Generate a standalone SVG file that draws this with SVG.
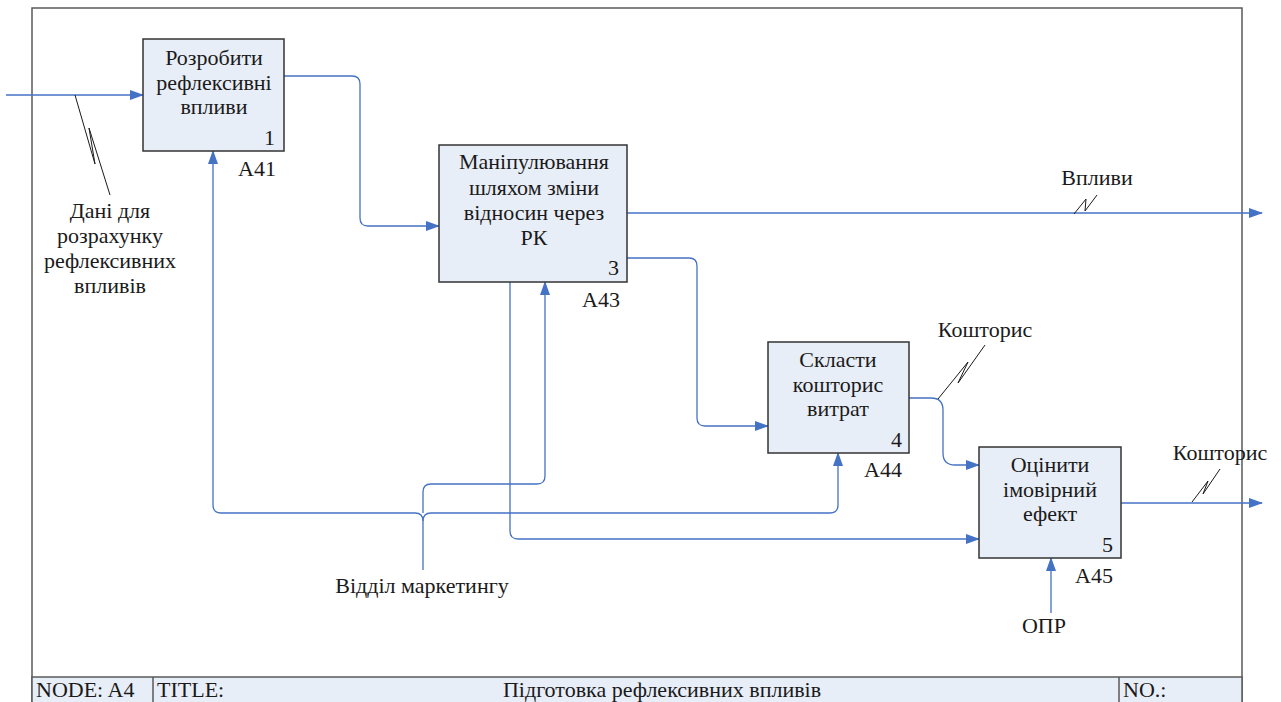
<svg xmlns="http://www.w3.org/2000/svg" width="1281" height="702" viewBox="0 0 1281 702">
  <style>
    text { font-family: "Liberation Serif", Tinos, "Noto Serif", "DejaVu Serif", serif; font-size: 22px; fill: #1a1a1a; }
    .c { text-anchor: middle; }
    .e { text-anchor: end; }
    .box { fill: #E8EEF7; stroke: #333333; stroke-width: 1.5; }
    .frame { fill: none; stroke: #595959; stroke-width: 1.5; }
    .bar { fill: #E8EEF7; stroke: #595959; stroke-width: 1.5; }
    .arc { fill: none; stroke: #4472C4; stroke-width: 1.3; }
    .sq { fill: none; stroke: #1a1a1a; stroke-width: 1; }
  </style>
  <defs>
    <marker id="arrow" markerUnits="userSpaceOnUse" markerWidth="14" markerHeight="10" refX="13" refY="5" orient="auto">
      <path d="M0,0 L14,5 L0,10 Z" fill="#4472C4"/>
    </marker>
  </defs>

  <rect width="1281" height="702" fill="#ffffff"/>

  <!-- outer frame and title bar -->
  <rect class="frame" x="32" y="8" width="1210" height="710"/>
  <rect class="bar" x="32" y="677" width="1210" height="40"/>
  <line x1="153" y1="677" x2="153" y2="702" stroke="#595959" stroke-width="1.5"/>
  <line x1="1119" y1="677" x2="1119" y2="702" stroke="#595959" stroke-width="1.5"/>
  <g font-family="Liberation Serif, Tinos, DejaVu Serif, serif">
    <text x="36" y="697">NODE: A4</text>
    <text x="157" y="697">TITLE:</text>
    <text x="662" y="697" class="c">Підготовка рефлексивних впливів</text>
    <text x="1123" y="697">NO.:</text>
  </g>

  <!-- connectors -->
  <g id="connectors">
    <path class="arc" d="M6,95 H143" marker-end="url(#arrow)"/>
    <path class="arc" d="M284,76 H352 Q360,76 360,84 V218 Q360,226 368,226 H439" marker-end="url(#arrow)"/>
    <path class="arc" d="M627,213 H1262" marker-end="url(#arrow)"/>
    <path class="arc" d="M627,258 H689 Q697,258 697,266 V418 Q697,426 705,426 H768" marker-end="url(#arrow)"/>
    <path class="arc" d="M510,282 V531 Q510,539 518,539 H979" marker-end="url(#arrow)"/>
    <path class="arc" d="M423,570 V521 Q423,513 415,513 H221 Q213,513 213,505 V151" marker-end="url(#arrow)"/>
    <path class="arc" d="M423,521 Q423,513 431,513 H830 Q838,513 838,505 V453" marker-end="url(#arrow)"/>
    <path class="arc" d="M423,513 V492 Q423,484 431,484 H537 Q545,484 545,476 V282" marker-end="url(#arrow)"/>
    <path class="arc" d="M909,398 H931 Q943,398 943,410 V453 Q943,465 955,465 H979" marker-end="url(#arrow)"/>
    <path class="arc" d="M1121,503 H1262" marker-end="url(#arrow)"/>
    <path class="arc" d="M1051,613 V558" marker-end="url(#arrow)"/>

    <!-- label squiggles -->
    <path class="sq" d="M75,95 L95,164 L89,128 L110,195"/>
    <path class="sq" d="M1074,214 L1086,199 L1085,211 L1097,195"/>
    <path class="sq" d="M938,399 L968,362 L958,383 L985,345"/>
    <path class="sq" d="M1192,502 L1208,481 L1203,494 L1220,469"/>
  </g>

  <!-- connector labels -->
  <text x="110" y="218" class="c">Дані для</text>
  <text x="110" y="243" class="c">розрахунку</text>
  <text x="110" y="268" class="c">рефлексивних</text>
  <text x="110" y="293" class="c">впливів</text>
  <text x="1097" y="185" class="c">Впливи</text>
  <text x="985" y="337" class="c">Кошторис</text>
  <text x="1220" y="460" class="c">Кошторис</text>
  <text x="1044" y="633" class="c">ОПР</text>
  <text x="422" y="593" class="c">Відділ маркетингу</text>

  <g id="A41">
    <rect class="box" x="143" y="39" width="141" height="112"/>
    <text x="214" y="65" class="c">Розробити</text>
    <text x="214" y="90" class="c">рефлексивні</text>
    <text x="214" y="114" class="c">впливи</text>
    <text x="275" y="145" class="e">1</text>
    <text x="238" y="176">A41</text>
  </g>

  <g id="A43">
    <rect class="box" x="439" y="145" width="188" height="137"/>
    <text x="534" y="169" class="c">Маніпулювання</text>
    <text x="534" y="195" class="c">шляхом зміни</text>
    <text x="534" y="220" class="c">відносин через</text>
    <text x="534" y="245" class="c">РК</text>
    <text x="619" y="275" class="e">3</text>
    <text x="582" y="307">A43</text>
  </g>

  <g id="A44">
    <rect class="box" x="768" y="342" width="141" height="111"/>
    <text x="838" y="367" class="c">Скласти</text>
    <text x="838" y="392" class="c">кошторис</text>
    <text x="838" y="416" class="c">витрат</text>
    <text x="902" y="447" class="e">4</text>
    <text x="864" y="477">A44</text>
  </g>

  <g id="A45">
    <rect class="box" x="979" y="447" width="142" height="111"/>
    <text x="1050" y="472" class="c">Оцінити</text>
    <text x="1050" y="497" class="c">імовірний</text>
    <text x="1050" y="521" class="c">ефект</text>
    <text x="1113" y="552" class="e">5</text>
    <text x="1075" y="583">A45</text>
  </g>
</svg>
